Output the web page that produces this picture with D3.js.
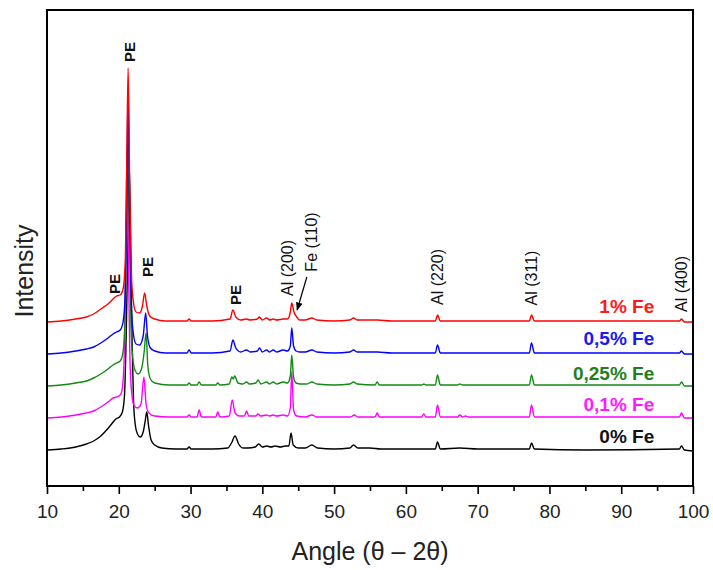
<!DOCTYPE html>
<html>
<head>
<meta charset="utf-8">
<script src="https://cdn.jsdelivr.net/npm/d3@7"></script>
<style>
    body { margin: 0; background: #fff; }
    svg { display: block; font-family: "Liberation Sans", Arial, sans-serif; }
</style>
</head>
<body>
<div id="chart"></div>
<script>
// XRD patterns, intensity above each curve's own baseline, [angle 2θ, counts]
const fe0 = [[10,0],[12,1],[14,3],[15.5,6],[16.5,9],[17.5,14],[18.3,20],[19,26],[19.6,31],[20.1,33],[20.5,38],[20.8,55],[21.05,120],[21.25,200],[21.45,288],[21.65,200],[21.85,110],[22.05,50],[22.3,25],[22.6,16],[23.0,13],[23.4,18],[23.7,30],[23.9,38],[24.15,24],[24.5,10],[25,5],[26,2],[28,1],[29.5,1],[29.8,3],[30.1,1],[33,1],[35.2,2],[35.7,7],[36.2,14],[36.7,6],[37.3,2],[38,2],[39,3],[39.5,6],[40,3],[40.6,4],[41.2,3],[41.8,4],[42.5,3],[43.2,4],[43.7,4],[44.0,17],[44.3,5],[45,2],[46,2],[46.9,5],[47.7,2],[50,1],[52.2,2],[52.7,5],[53.3,2],[55,2],[56.5,1],[60,1],[64.1,1],[64.4,8],[64.8,1],[67.5,2],[70,1],[77.2,1],[77.5,7],[77.9,1],[85,0],[98.1,1],[98.4,4],[98.8,0],[100,-1]];

const fe01 = [[10,0],[12,1],[14,3],[15.5,5],[16.5,7],[17.5,11],[18.5,16],[19.2,20],[19.7,21],[20.2,23],[20.5,30],[20.75,60],[20.95,150],[21.15,268],[21.35,150],[21.55,60],[21.8,25],[22.1,13],[22.6,10],[23.1,14],[23.5,41],[23.8,14],[24.2,5],[25,2],[27,1],[29.5,1],[29.8,3],[30.1,1],[30.9,1],[31.2,8],[31.5,1],[33.5,1],[33.8,6],[34.1,1],[35.4,2],[35.8,18],[36.2,5],[36.8,2],[37.5,2],[37.8,7],[38.1,2],[39.1,2],[39.4,4],[39.8,2],[40.6,3],[41.0,2],[41.5,3],[42,2],[42.9,3],[43.5,2],[43.9,10],[44.1,46],[44.35,8],[44.8,2],[46,1],[46.9,3],[47.6,1],[50,1],[52.3,1],[52.8,3],[53.3,1],[55.7,1],[56,5],[56.3,1],[60,1],[62.2,1],[62.5,4],[62.8,1],[64.1,1],[64.4,13],[64.8,1],[67.2,1],[67.5,3],[67.9,1],[68.3,2],[68.7,1],[72,1],[77.2,1],[77.5,13],[77.9,1],[85,1],[98.1,1],[98.4,5],[98.8,0],[100,0]];

const fe025 = [[10,0],[12,1],[14,3],[15.5,5],[16.5,8],[17.5,12],[18.5,17],[19.2,21],[19.7,23],[20.2,25],[20.55,32],[20.85,60],[21.05,150],[21.3,263],[21.5,150],[21.7,60],[21.95,28],[22.3,15],[22.7,12],[23.2,18],[23.55,35],[23.8,53],[24.05,20],[24.4,7],[25,3],[27,1],[29.5,1],[29.8,3],[30.1,1],[30.9,1],[31.2,4],[31.5,1],[33.5,1],[33.8,3],[34.1,1],[35.4,2],[35.75,9],[35.95,7],[36.15,10],[36.6,3],[37.3,2],[37.8,4],[38.2,2],[39.1,3],[39.4,6],[39.8,2],[40.6,4],[41.0,2],[41.5,4],[42,2],[42.9,4],[43.5,3],[43.9,10],[44.1,31],[44.35,9],[44.7,3],[45.3,2],[46.2,2],[46.9,4],[47.6,2],[50,1],[52.2,2],[52.7,4],[53.2,2],[55.7,1],[56,4],[56.3,1],[60,1],[62.2,1],[62.5,2],[62.8,1],[64.1,1],[64.4,11],[64.8,1],[67.2,1],[67.5,2],[67.9,1],[72,1],[77.2,1],[77.5,11],[77.9,1],[85,1],[98.1,1],[98.4,4],[98.8,0],[100,0]];

const fe05 = [[10,0],[12,1],[14,3],[15.5,5],[16.5,7],[17.5,11],[18.5,16],[19.2,20],[19.7,22],[20.2,24],[20.6,32],[20.9,60],[21.1,150],[21.3,267],[21.5,150],[21.75,50],[22.0,22],[22.4,10],[22.9,9],[23.4,18],[23.75,41],[24.0,18],[24.4,6],[25,3],[26.5,1],[29.5,1],[29.8,4],[30.1,1],[33,1],[35.5,3],[35.9,14],[36.3,6],[37,2],[37.8,4],[38.3,2],[39.3,3],[39.6,6],[40,2],[40.6,4],[41,2],[41.5,4],[42,2],[42.9,4],[43.5,3],[43.9,8],[44.1,26],[44.35,8],[44.7,3],[45.2,2],[46,2],[46.9,4],[47.6,2],[50,1],[52.2,2],[52.7,4],[53.2,2],[56,2],[58,1],[64.1,1],[64.4,9],[64.8,1],[68,1],[77.2,1],[77.5,11],[77.9,1],[90,1],[98.1,1],[98.4,3],[98.8,0],[100,0]];

const fe1 = [[10,0],[12,1],[14,3],[15.5,5],[16.5,8],[17.5,13],[18.5,18],[19.2,23],[19.7,26],[20.2,27],[20.6,33],[20.9,60],[21.1,150],[21.3,254],[21.5,150],[21.75,50],[22.0,22],[22.4,10],[22.9,9],[23.3,16],[23.6,29],[23.9,16],[24.3,6],[25,3],[26.5,1],[29.5,1],[29.8,3],[30.1,1],[33,1],[35.5,3],[35.9,12],[36.3,5],[37,2],[37.8,3],[38.3,2],[39.3,3],[39.6,5],[40,2],[40.6,4],[41,2],[41.5,3],[42,2],[42.9,3],[43.5,3],[43.9,10],[44.1,19],[44.4,10],[44.7,6],[45.2,2],[46,2],[46.9,4],[47.6,2],[50,1],[52.2,2],[52.7,4],[53.2,2],[56,2],[58,1],[64.1,1],[64.4,7],[64.8,1],[68,1],[77.2,1],[77.5,7],[77.9,1],[90,1],[98.1,1],[98.4,3],[98.8,0],[100,0]];

// drawing order bottom -> top of the stack
const seriesData = [fe0, fe01, fe025, fe05, fe1];
const seriesNames = ["0% Fe", "0,1% Fe", "0,25% Fe", "0,5% Fe", "1% Fe"];
const seriesOffsets = [0, 32, 64, 96, 128];
const seriesColors = ["#000000", "#ff00ff", "#138a13", "#0000ff", "#ff0000"];
const labelColors = ["#111111", "#ff1aff", "#1f7f1f", "#1a1aee", "#ff1a1a"];

const xTicks = [10, 20, 30, 40, 50, 60, 70, 80, 90, 100];
const xMinorTicks = [15, 25, 35, 45, 55, 65, 75, 85, 95];

// peak labels: [text, angle, level, bold]
const peakLabels = [
    ["PE", 21.56, 398, true],
    ["PE", 19.47, 166, true],
    ["PE", 24.07, 183, true],
    ["PE", 36.3, 155, true],
    ["Al (200)", 43.57, 182, false],
    ["Fe (110)", 46.9, 208, false],
    ["Al (220)", 64.46, 173, false],
    ["Al (311)", 77.55, 172, false],
    ["Al (400)", 98.44, 166, false],
];
// arrow Fe (110): from [angle, level] to [angle, level]
const feArrow = [[46.2, 173], [44.85, 140]];

const width = 713;
const height = 570;
const margin = { top: 10, right: 20, bottom: 84, left: 47 };

const x = d3.scaleLinear().domain([10, 100]).range([margin.left, width - margin.right]);
const y = d3.scaleLinear().domain([-36, 440]).range([height - margin.bottom, margin.top]);

const svg = d3.select("#chart").append("svg").attr("width", width).attr("height", height);

svg.append("defs")
    .append("marker")
    .attr("id", "arrowhead")
    .attr("viewBox", "0 0 10 10")
    .attr("refX", 9)
    .attr("refY", 5)
    .attr("markerWidth", 7)
    .attr("markerHeight", 7)
    .attr("orient", "auto")
    .append("path")
    .attr("d", "M0,1 L10,5 L0,9 Z")
    .attr("fill", "#000");

// curves
seriesData.forEach((data, i) => {
    const line = d3
        .line()
        .x(d => x(d[0]))
        .y(d => y(d[1] + seriesOffsets[i]))
        .curve(d3.curveMonotoneX);
    svg.append("path")
        .datum(data)
        .attr("d", line)
        .attr("fill", "none")
        .attr("stroke", seriesColors[i])
        .attr("stroke-width", 1.4)
        .attr("stroke-linejoin", "round");
});

// series labels, sitting just above each baseline
svg.selectAll(".series-label")
    .data(seriesNames)
    .join("text")
    .attr("class", "series-label")
    .attr("x", x(94.6))
    .attr("y", (d, i) => y(seriesOffsets[i] + (i < 2 ? 7 : i === 2 ? 6 : 9)))
    .attr("text-anchor", "end")
    .attr("font-size", 19)
    .attr("font-weight", "bold")
    .attr("fill", (d, i) => labelColors[i])
    .text(d => d);

// peak annotations (vertical text)
svg.selectAll(".peak-label")
    .data(peakLabels)
    .join("text")
    .attr("class", "peak-label")
    .attr("transform", d => `translate(${x(d[1])},${y(d[2])}) rotate(-90)`)
    .attr("text-anchor", "middle")
    .attr("dominant-baseline", "central")
    .attr("font-size", d => (d[3] ? 15 : 16))
    .attr("font-weight", d => (d[3] ? "bold" : "normal"))
    .attr("fill", "#111")
    .text(d => d[0]);

svg.append("line")
    .attr("x1", x(feArrow[0][0]))
    .attr("y1", y(feArrow[0][1]))
    .attr("x2", x(feArrow[1][0]))
    .attr("y2", y(feArrow[1][1]))
    .attr("stroke", "#000")
    .attr("stroke-width", 1.2)
    .attr("marker-end", "url(#arrowhead)");

// frame
svg.append("rect")
    .attr("x", margin.left)
    .attr("y", margin.top)
    .attr("width", width - margin.left - margin.right)
    .attr("height", height - margin.top - margin.bottom)
    .attr("fill", "none")
    .attr("stroke", "#000")
    .attr("stroke-width", 2);

// x axis
const xAxis = svg
    .append("g")
    .attr("transform", `translate(0,${height - margin.bottom})`)
    .call(d3.axisBottom(x).tickValues(xTicks).tickSize(8).tickPadding(11).tickFormat(d3.format("d")));
xAxis.select(".domain").remove();
xAxis.selectAll("line").attr("stroke-width", 1.6);
xAxis.selectAll("text").attr("font-size", 19).attr("fill", "#222").style("font-family", "'Liberation Sans', Arial, sans-serif");

const xMinor = svg
    .append("g")
    .attr("transform", `translate(0,${height - margin.bottom})`)
    .call(d3.axisBottom(x).tickValues(xMinorTicks).tickSize(5).tickFormat(""));
xMinor.select(".domain").remove();
xMinor.selectAll("line").attr("stroke-width", 1.6);

// axis titles
svg.append("text")
    .attr("x", (margin.left + width - margin.right) / 2)
    .attr("y", 560)
    .attr("text-anchor", "middle")
    .attr("font-size", 25)
    .attr("fill", "#222")
    .text("Angle (θ – 2θ)");

svg.append("text")
    .attr("transform", `translate(33,271) rotate(-90)`)
    .attr("text-anchor", "middle")
    .attr("font-size", 25)
    .attr("fill", "#222")
    .text("Intensity");
</script>
</body>
</html>
